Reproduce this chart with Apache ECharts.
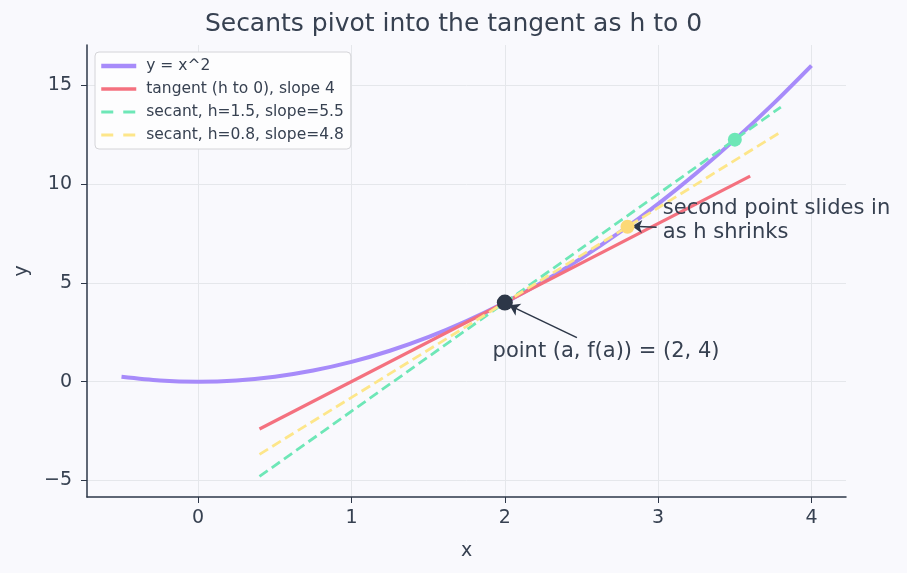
<!DOCTYPE html>
<html>
<head>
<meta charset="utf-8">
<script src="https://cdn.jsdelivr.net/npm/echarts@6/dist/echarts.min.js"></script>
<style>
  html, body { margin: 0; padding: 0; background: #f9f9fd; }
  #chart { width: 907px; height: 573px; }
</style>
</head>
<body>
<div id="chart"></div>
<script>
// curve y = x^2, sampled every 0.25
const curveX = [-0.5, -0.25, 0, 0.25, 0.5, 0.75, 1, 1.25, 1.5, 1.75, 2, 2.25, 2.5, 2.75, 3, 3.25, 3.5, 3.75, 4];
const curveY = [0.25, 0.0625, 0, 0.0625, 0.25, 0.5625, 1, 1.5625, 2.25, 3.0625, 4, 5.0625, 6.25, 7.5625, 9, 10.5625, 12.25, 14.0625, 16];

const tangentPts = [[0.4, -2.4], [3.6, 10.4]];
const secantWide = [[0.4, -4.8], [3.8, 13.9]];
const secantNear = [[0.4, -3.68], [3.8, 12.64]];

const basePoint = [2, 4];
const farPoint = [3.5, 12.25];
const nearPoint = [2.8, 7.84];

const xTicks = [0, 1, 2, 3, 4];
const yTicks = [-5, 0, 5, 10, 15];

const txt = "#374151";
const dark = "#2d3748";
const font = "DejaVu Sans";
const purple = "#a78bfa", red = "#f4717f", green = "#6ee7b7", yellow = "#fde68a";

const chart = echarts.init(document.getElementById("chart"));

chart.setOption({
  backgroundColor: "#f9f9fd",
  animation: false,
  textStyle: { fontFamily: font },
  title: {
    text: "Secants pivot into the tangent as h to 0",
    left: "center",
    top: 7,
    textStyle: { fontSize: 25, fontWeight: "normal", color: txt, fontFamily: font },
  },
  legend: {
    orient: "vertical",
    left: 95,
    top: 52,
    padding: [5, 7, 5, 4],
    itemWidth: 35,
    itemHeight: 14,
    itemGap: 5,
    backgroundColor: "#fdfdfe",
    borderColor: "#d4d4d8",
    borderWidth: 1,
    borderRadius: 4,
    itemStyle: { opacity: 0 },
    textStyle: { fontSize: 15.5, lineHeight: 18, color: txt, fontFamily: font, padding: [0, 0, 0, 5] },
    data: [
      { name: "y = x^2", lineStyle: { width: 4.5 } },
      { name: "tangent (h to 0), slope 4", lineStyle: { width: 3.5 } },
      { name: "secant, h=1.5, slope=5.5", lineStyle: { width: 3.2, type: [12, 10] } },
      { name: "secant, h=0.8, slope=4.8", lineStyle: { width: 3.2, type: [12, 10] } },
    ],
  },
  grid: { left: 87, right: 61, top: 45, bottom: 76, outerBoundsMode: "none" },
  xAxis: {
    type: "value",
    min: -0.725,
    max: 4.225,
    name: "x",
    nameLocation: "middle",
    nameGap: 45,
    nameTextStyle: { fontSize: 19, color: txt },
    axisLine: { show: true, onZero: false, lineStyle: { color: dark, width: 1.5 } },
    axisTick: { show: true, customValues: xTicks, length: 6, lineStyle: { color: dark } },
    axisLabel: { customValues: xTicks, fontSize: 19, color: txt, margin: 12 },
    splitLine: { show: true, lineStyle: { color: "#e5e7eb", width: 1 } },
  },
  yAxis: {
    type: "value",
    min: -5.84,
    max: 17.04,
    name: "y",
    nameLocation: "middle",
    nameGap: 55,
    nameTextStyle: { fontSize: 19, color: txt },
    axisLine: { show: true, onZero: false, lineStyle: { color: dark, width: 1.5 } },
    axisTick: { show: true, customValues: yTicks, length: 6, lineStyle: { color: dark } },
    axisLabel: {
      customValues: yTicks, fontSize: 19, color: txt, margin: 15,
      formatter: (v) => String(v).replace("-", "\u2212"),
    },
    splitLine: { show: true, lineStyle: { color: "#e5e7eb", width: 1 } },
  },
  series: [
    {
      name: "y = x^2",
      type: "line",
      data: curveX.map((x, i) => [x, curveY[i]]),
      smooth: 0.3,
      symbol: "none",
      lineStyle: { color: purple, width: 4 },
      itemStyle: { color: purple },
      z: 2,
    },
    {
      name: "tangent (h to 0), slope 4",
      type: "line",
      data: tangentPts,
      symbol: "none",
      lineStyle: { color: red, width: 3.2 },
      itemStyle: { color: red },
      z: 3,
    },
    {
      name: "secant, h=1.5, slope=5.5",
      type: "line",
      data: secantWide,
      symbol: "none",
      lineStyle: { color: green, width: 2.8, type: [10, 5] },
      itemStyle: { color: green },
      z: 4,
    },
    {
      name: "secant, h=0.8, slope=4.8",
      type: "line",
      data: secantNear,
      symbol: "none",
      lineStyle: { color: yellow, width: 2.8, type: [10, 5] },
      itemStyle: { color: yellow },
      z: 4,
    },
    {
      name: "far",
      type: "scatter",
      data: [farPoint],
      symbolSize: 14,
      itemStyle: { color: green, opacity: 1 },
      z: 6,
    },
    {
      name: "near",
      type: "scatter",
      data: [nearPoint],
      symbolSize: 14,
      itemStyle: { color: "#fcd977", opacity: 1 },
      z: 6,
    },
    {
      name: "base",
      type: "scatter",
      data: [basePoint],
      symbolSize: 16,
      itemStyle: { color: dark, opacity: 1 },
      z: 7,
    },
    {
      name: "notes",
      type: "scatter",
      symbolSize: 0,
      silent: true,
      z: 8,
      itemStyle: { opacity: 1 },
      data: [
        { value: [1.92, 1.52], label: { formatter: "point (a, f(a)) = (2, 4)" } },
        { value: [3.03, 8.15], label: { formatter: "second point slides in\nas h shrinks", lineHeight: 24 } },
      ],
      label: { show: true, position: "right", distance: 0, fontSize: 21, color: txt, fontFamily: font, align: "left" },
      markLine: {
        silent: true,
        symbol: ["none", "arrow"],
        symbolSize: 10,
        label: { show: false },
        lineStyle: { color: dark, width: 1.5, type: "solid", opacity: 1 },
        data: [
          [{ coord: [2.47, 2.23] }, { coord: [2.03, 3.86] }],
          [{ coord: [2.99, 7.82] }, { coord: [2.83, 7.87] }],
        ],
      },
    },
  ],
});
</script>
</body>
</html>
